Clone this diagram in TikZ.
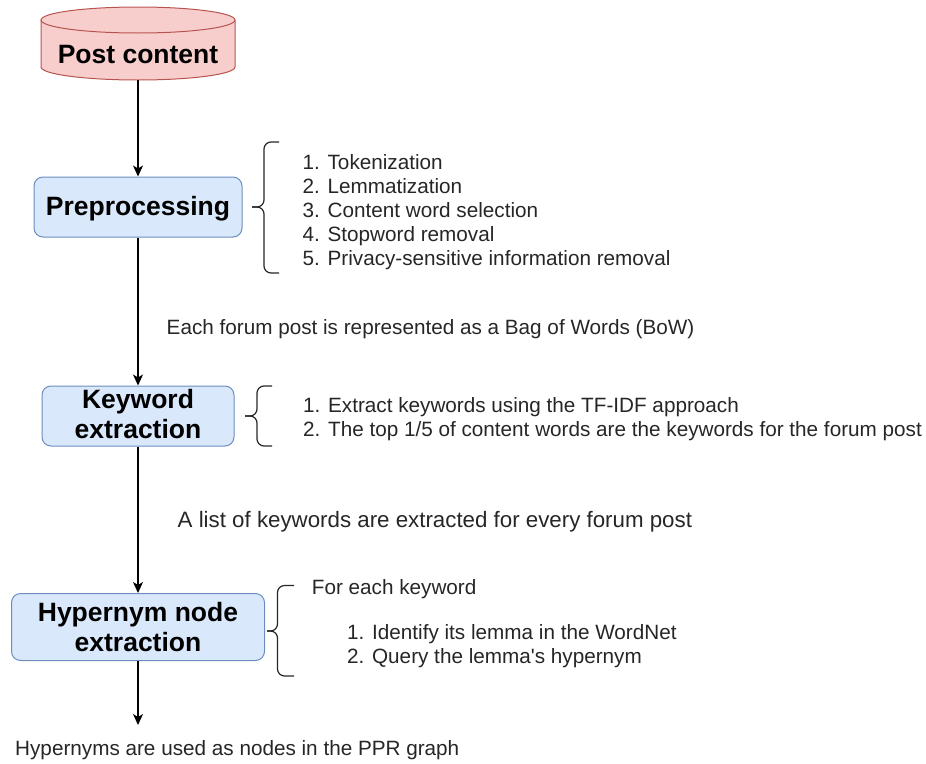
\documentclass[tikz,border=0pt]{standalone}
\usepackage{fontspec}
\setmainfont{Liberation Sans}
% plain family without TeX ligature mapping, so that ' stays straight
\newfontfamily\notefont{Liberation Sans}
\usetikzlibrary{arrows.meta}
\definecolor{boxfill}{HTML}{DAE8FC}
\definecolor{boxline}{HTML}{6C8EBF}
\definecolor{dbfill}{HTML}{F8CECC}
\definecolor{dbline}{HTML}{B85450}
\definecolor{ink}{HTML}{262626}

\begin{document}
\begin{tikzpicture}[x=1pt,y=-1pt,
  stage/.style={draw=boxline, fill=boxfill, line width=1pt, rounded corners=9pt, inner sep=0pt},
  title/.style={font=\fontsize{26.5}{30}\selectfont\bfseries, text=black, inner sep=0pt, anchor=base},
  note/.style={font=\notefont\fontsize{20.7}{24}\selectfont, text=ink, inner sep=0pt, anchor=base west},
  bignote/.style={font=\notefont\fontsize{22.3}{26}\selectfont, text=ink, inner sep=0pt, anchor=base west},
  flow/.style={draw=black, line width=1.3pt, -{Stealth[length=11pt,width=10pt,inset=3pt]}},
  brace/.style={draw=ink, line width=1.2pt, rounded corners=7pt},
]
\useasboundingbox (0,0) rectangle (926,763);

% database cylinder for the post content
\path[fill=dbfill, draw=dbline, line width=1pt]
  (41,20) -- (41,67) arc[start angle=180, end angle=0, x radius=97, y radius=13]
  -- (235,20) arc[start angle=0, end angle=-180, x radius=97, y radius=13] -- cycle;
\draw[dbline, line width=1pt] (41,20) arc[start angle=180, end angle=0, x radius=97, y radius=13];
\node[minimum width=194pt, minimum height=50pt, inner sep=0pt] (post) at (138,55) {};
\node[title] at (138,63.3) {Post content};

% processing stages
\node[stage, minimum width=208pt, minimum height=60pt] (pre) at (138,207) {};
\node[title] at (138,215) {Preprocessing};

\node[stage, minimum width=192pt, minimum height=60pt] (kw) at (138,416) {};
\node[title] at (138,408.3) {Keyword};
\node[title] at (138,438.3) {extraction};

\node[stage, minimum width=253pt, minimum height=67pt] (hyp) at (138,627) {};
\node[title] at (138,621.7) {Hypernym node};
\node[title] at (138,651.7) {extraction};

\coordinate (out) at (138,725);

% flow arrows
\draw[flow] (post.south) -- (pre.north);
\draw[flow] (pre.south) -- (kw.north);
\draw[flow] (kw.south) -- (hyp.north);
\draw[flow] (hyp.south) -- (out);

% preprocessing steps
\draw[brace] (279,142) -- (264,142) -- (264,207) -- (252,207);
\draw[brace] (252,207) -- (264,207) -- (264,273) -- (279,273);
\node[note] (s1) at (302.5,169.3) {1. Tokenization};
\node[note] (s2) at (302.5,193.3) {2. Lemmatization};
\node[note] (s3) at (302.5,217.3) {3. Content word selection};
\node[note] (s4) at (302.5,241.3) {4. Stopword removal};
\node[note] (s5) at (302.5,265.3) {5. Privacy-sensitive information removal};

\node[note] (bow) at (166.5,334.5) {Each forum post is represented as a Bag of Words (BoW)};

% keyword extraction steps
\draw[brace] (272,386) -- (257,386) -- (257,416) -- (245,416);
\draw[brace] (245,416) -- (257,416) -- (257,446) -- (272,446);
\node[note] (k1) at (303,412.7) {1. Extract keywords using the TF-IDF approach};
\node[note] (k2) at (303,436.2) {2. The top 1/5 of content words are the keywords for the forum post};

\node[bignote] (kwl) at (177.5,527.5) {A list of keywords are extracted for every forum post};

% hypernym extraction steps
\draw[brace] (294,585.5) -- (277.5,585.5) -- (277.5,631) -- (267,631);
\draw[brace] (267,631) -- (277.5,631) -- (277.5,676) -- (294,676);
\node[note] (h0) at (311.7,594.3) {For each keyword};
\node[note] (h1) at (347,639.3) {1. Identify its lemma in the WordNet};
\node[note] (h2) at (347,663) {2. Query the lemma's hypernym};

\node[note] (res) at (15,755.7) {Hypernyms are used as nodes in the PPR graph};
\end{tikzpicture}
\end{document}
